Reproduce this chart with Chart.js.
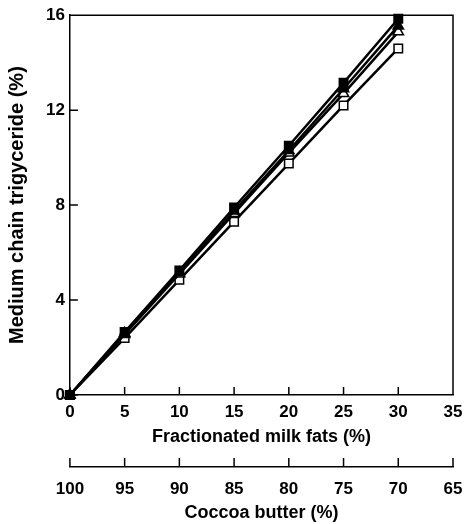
<!DOCTYPE html>
<html>
<head>
<meta charset="utf-8">
<script src="https://cdn.jsdelivr.net/npm/chart.js@4/dist/chart.umd.min.js"></script>
<style>
html,body{margin:0;padding:0;background:#fff;}
#wrap{width:466px;height:524px;}
</style>
</head>
<body>
<div id="wrap"><canvas id="c" width="466" height="524"></canvas></div>
<script>
const milkFat = [0, 5, 10, 15, 20, 25, 30];
const seriesFilledSquare = [0, 2.65, 5.25, 7.9, 10.5, 13.15, 15.85];
const seriesFilledTriangle = [0, 2.6, 5.15, 7.75, 10.3, 12.9, 15.55];
const seriesOpenTriangle = [0, 2.55, 5.1, 7.65, 10.2, 12.7, 15.3];
const seriesOpenSquare = [0, 2.4, 4.85, 7.3, 9.75, 12.2, 14.6];
const xTicks = [0, 5, 10, 15, 20, 25, 30, 35];
const yTicks = [0, 4, 8, 12, 16];
const cocoaTicks = [100, 95, 90, 85, 80, 75, 70, 65];

const font = {family: '"Liberation Sans", Arial, sans-serif', weight: 'bold', size: 17};
const titleFont = {family: '"Liberation Sans", Arial, sans-serif', weight: 'bold', size: 18};
const yTitleFont = {family: '"Liberation Sans", Arial, sans-serif', weight: 'bold', size: 20};

function mk(vals, style, fill, r) {
  return {
    data: milkFat.map((x, i) => ({x: x, y: vals[i]})),
    borderColor: '#000', borderWidth: 2.5,
    pointStyle: style, pointRadius: r, pointBorderWidth: 1.5,
    pointBackgroundColor: fill, pointBorderColor: '#000',
    clip: false, tension: 0
  };
}

const tickPlugin = {
  id: 'inticks',
  afterDraw(chart) {
    const ctx = chart.ctx, a = chart.chartArea;
    const x = chart.scales.x, y = chart.scales.y, x2 = chart.scales.x2;
    ctx.save();
    ctx.strokeStyle = '#000';
    ctx.lineWidth = 1.5;
    ctx.beginPath();
    xTicks.forEach(v => { const p = x.getPixelForValue(v); ctx.moveTo(p, a.bottom); ctx.lineTo(p, a.bottom - 8); });
    yTicks.forEach(v => { const p = y.getPixelForValue(v); ctx.moveTo(a.left, p); ctx.lineTo(a.left + 8, p); });
    cocoaTicks.forEach(v => { const p = x2.getPixelForValue(v); ctx.moveTo(p, x2.top); ctx.lineTo(p, x2.top - 9); });
    ctx.moveTo(a.left, a.top); ctx.lineTo(a.right, a.top); ctx.lineTo(a.right, a.bottom);
    ctx.stroke();
    ctx.restore();
  }
};

const fixPad = s => { s.paddingRight = 13; };

new Chart(document.getElementById('c'), {
  type: 'line',
  data: {
    datasets: [
      mk(seriesFilledSquare, 'rect', '#000', 6),
      mk(seriesFilledTriangle, 'triangle', '#000', 6),
      mk(seriesOpenTriangle, 'triangle', '#fff', 6),
      mk(seriesOpenSquare, 'rect', '#fff', 6)
    ]
  },
  options: {
    responsive: false,
    animation: false,
    layout: {padding: {left: 5, right: 0, top: 14, bottom: 0}},
    plugins: {legend: {display: false}, tooltip: {enabled: false}},
    scales: {
      x: {
        type: 'linear', position: 'bottom', min: 0, max: 35,
        afterBuildTicks: s => { s.ticks = xTicks.map(v => ({value: v})); },
        afterFit: fixPad,
        grid: {display: false, drawTicks: false},
        border: {display: true, color: '#000', width: 1.5},
        ticks: {color: '#000', font: font, padding: 7, maxRotation: 0},
        title: {display: true, text: 'Fractionated milk fats (%)', color: '#000', font: titleFont, padding: {top: -3, bottom: 19}}
      },
      x2: {
        type: 'linear', position: 'bottom', min: 65, max: 100, reverse: true,
        afterBuildTicks: s => { s.ticks = cocoaTicks.map(v => ({value: v})); },
        afterFit: fixPad,
        grid: {display: false, drawTicks: false},
        border: {display: true, color: '#000', width: 1.5},
        ticks: {color: '#000', font: font, padding: 12, maxRotation: 0},
        title: {display: true, text: 'Coccoa butter (%)', color: '#000', font: titleFont, padding: {top: -9, bottom: 0}}
      },
      y: {
        type: 'linear', min: 0, max: 16,
        afterBuildTicks: s => { s.ticks = yTicks.map(v => ({value: v})); },
        grid: {display: false, drawTicks: false},
        border: {display: true, color: '#000', width: 1.5},
        ticks: {color: '#000', font: font, padding: 5},
        title: {display: true, text: 'Medium chain trigyceride (%)', color: '#000', font: yTitleFont, padding: {top: 0, bottom: 12}}
      }
    }
  },
  plugins: [tickPlugin]
});
</script>
</body>
</html>
